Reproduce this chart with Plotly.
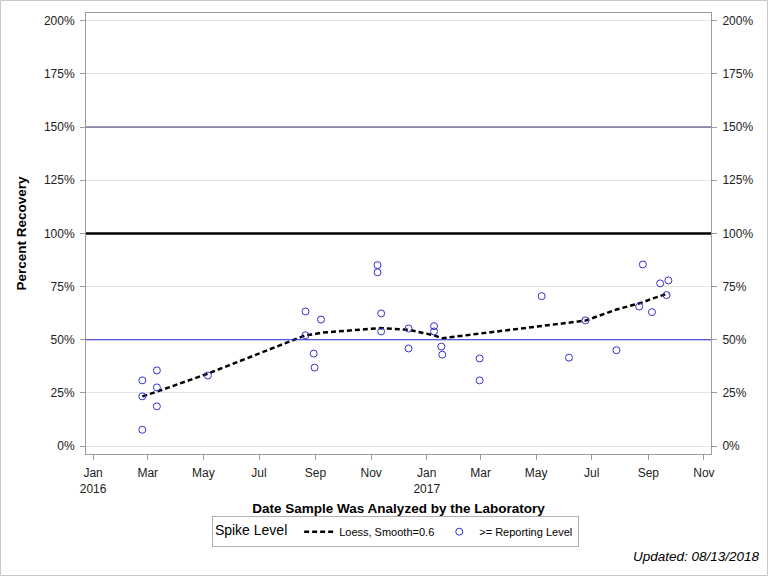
import plotly.graph_objects as go

# ---- data ----
sample_dates = [
    "2016-02-24", "2016-02-24", "2016-02-24",
    "2016-03-11", "2016-03-11", "2016-03-11",
    "2016-05-06",
    "2016-08-21", "2016-08-21",
    "2016-08-30", "2016-08-31",
    "2016-09-07",
    "2016-11-08", "2016-11-08",
    "2016-11-12", "2016-11-12",
    "2016-12-12", "2016-12-12",
    "2017-01-09", "2017-01-09",
    "2017-01-17", "2017-01-18",
    "2017-02-28", "2017-02-28",
    "2017-05-07", "2017-06-06", "2017-06-24", "2017-07-28",
    "2017-08-22", "2017-08-26", "2017-09-05", "2017-09-14",
    "2017-09-21", "2017-09-23",
]
recovery_pct = [
    30.9, 23.4, 7.7,
    35.6, 27.6, 18.7,
    33.2,
    63.3, 52.1,
    43.5, 36.9,
    59.5,
    85.1, 81.7,
    62.4, 53.9,
    55.3, 45.9,
    56.4, 53.9,
    46.8, 43.0,
    41.2, 30.9,
    70.5, 41.6, 59.1, 45.1,
    65.6, 85.4, 63.0, 76.5,
    71.0, 77.9,
]

loess_dates = [
    "2016-02-24", "2016-03-11", "2016-05-06", "2016-08-21", "2016-08-30",
    "2016-08-31", "2016-09-07", "2016-11-08", "2016-11-12", "2016-12-12",
    "2017-01-09", "2017-01-17", "2017-01-18", "2017-02-28", "2017-05-07",
    "2017-06-06", "2017-06-24", "2017-07-28", "2017-08-22", "2017-08-26",
    "2017-09-05", "2017-09-14", "2017-09-21", "2017-09-23",
]
loess_pct = [
    23.4, 25.6, 34.1, 52.1, 52.6,
    52.7, 53.3, 55.4, 55.5, 54.7,
    52.1, 50.8, 50.7, 52.9, 56.3,
    57.9, 59.0, 64.2, 67.0, 67.6,
    69.3, 70.7, 71.5, 71.8,
]

x_tick_dates = [
    "2016-01-01", "2016-03-01", "2016-05-01", "2016-07-01", "2016-09-01", "2016-11-01",
    "2017-01-01", "2017-03-01", "2017-05-01", "2017-07-01", "2017-09-01", "2017-11-01",
]
x_tick_labels = [
    "Jan<br>2016", "Mar", "May", "Jul", "Sep", "Nov",
    "Jan<br>2017", "Mar", "May", "Jul", "Sep", "Nov",
]
y_tick_values = [0, 25, 50, 75, 100, 125, 150, 175, 200]
y_tick_labels = ["0%", "25%", "50%", "75%", "100%", "125%", "150%", "175%", "200%"]
ref_levels = [150, 100, 50]
ref_colors = ["#34346e", "#000000", "#2a2ad2"]
ref_widths = [1, 2.5, 1]

x_range = ["2015-12-24 06:00", "2017-11-08 18:00"]
y_range = [-3.7, 203.6]

FONT = "Liberation Sans, Arial, sans-serif"
AXIS_GRAY = "#9c9c9c"

fig = go.Figure()

fig.add_trace(go.Scatter(
    x=loess_dates, y=loess_pct, mode="lines",
    name="Loess, Smooth=0.6",
    line=dict(color="black", width=2.5, dash="5px,3px"),
))
fig.add_trace(go.Scatter(
    x=sample_dates, y=recovery_pct, mode="markers",
    name=">= Reporting Level",
    marker=dict(symbol="circle-open", size=7, color="#3333cc",
                line=dict(color="#3333cc", width=1)),
))
# invisible trace so the right-hand axis is drawn
fig.add_trace(go.Scatter(
    x=[sample_dates[0]], y=[recovery_pct[0]], yaxis="y2", mode="markers",
    marker=dict(opacity=0), showlegend=False, hoverinfo="skip",
))

for lvl, col, w in zip(ref_levels, ref_colors, ref_widths):
    fig.add_shape(type="line", xref="paper", x0=0, x1=1, yref="y", y0=lvl, y1=lvl,
                  line=dict(color=col, width=w), layer="above")

# outer image border
fig.add_shape(type="rect", xref="paper", yref="paper",
              x0=-0.1368, x1=1.0904, y0=-0.2755, y1=1.0283,
              line=dict(color="#c8c8c8", width=1))

tick_font = dict(family=FONT, size=12, color="#222222")

fig.update_layout(
    width=768, height=576,
    margin=dict(l=86, r=57, t=13, b=122),
    paper_bgcolor="white", plot_bgcolor="white",
    font=dict(family=FONT, size=12, color="#222222"),
    xaxis=dict(
        range=x_range, tickvals=x_tick_dates, ticktext=x_tick_labels,
        showgrid=False, zeroline=False,
        showline=True, mirror=True, linecolor=AXIS_GRAY, linewidth=1,
        ticks="outside", ticklen=5, tickcolor=AXIS_GRAY, tickfont=tick_font,
        ticklabelstandoff=3,
        title=dict(text="<b>Date Sample Was Analyzed by the Laboratory</b>",
                   font=dict(family=FONT, size=13.5, color="black"), standoff=8),
    ),
    yaxis=dict(
        range=y_range, tickvals=y_tick_values, ticktext=y_tick_labels,
        showgrid=True, gridcolor="#e4e4e4", gridwidth=1, zeroline=False,
        showline=True, mirror=True, linecolor=AXIS_GRAY, linewidth=1,
        ticks="outside", ticklen=5, tickcolor=AXIS_GRAY, tickfont=tick_font,
        ticklabelstandoff=3,
        title=dict(text="<b>Percent Recovery</b>",
                   font=dict(family=FONT, size=13.5, color="black"), standoff=14),
    ),
    yaxis2=dict(
        range=y_range, tickvals=y_tick_values, ticktext=y_tick_labels,
        overlaying="y", side="right", showgrid=False, zeroline=False,
        ticks="outside", ticklen=5, tickcolor=AXIS_GRAY, tickfont=tick_font,
        ticklabelstandoff=3, showline=False,
    ),
    legend=dict(
        orientation="h", x=0.495, xanchor="center", y=-0.141, yanchor="top",
        bordercolor="#b0b0b0", borderwidth=1, bgcolor="white",
        font=dict(family=FONT, size=11, color="black"),
        title=dict(text="Spike Level ", side="left",
                   font=dict(family=FONT, size=14, color="black")),
        itemwidth=30, tracegroupgap=0,
    ),
    showlegend=True,
)

fig.add_annotation(
    text="<i>Updated: 08/13/2018</i>", xref="paper", yref="paper",
    x=(762 - 86) / 625, y=(454 - 556) / 441, xanchor="right", yanchor="middle",
    showarrow=False, font=dict(family=FONT, size=13.5, color="black"),
)

fig.write_html("out.html")
